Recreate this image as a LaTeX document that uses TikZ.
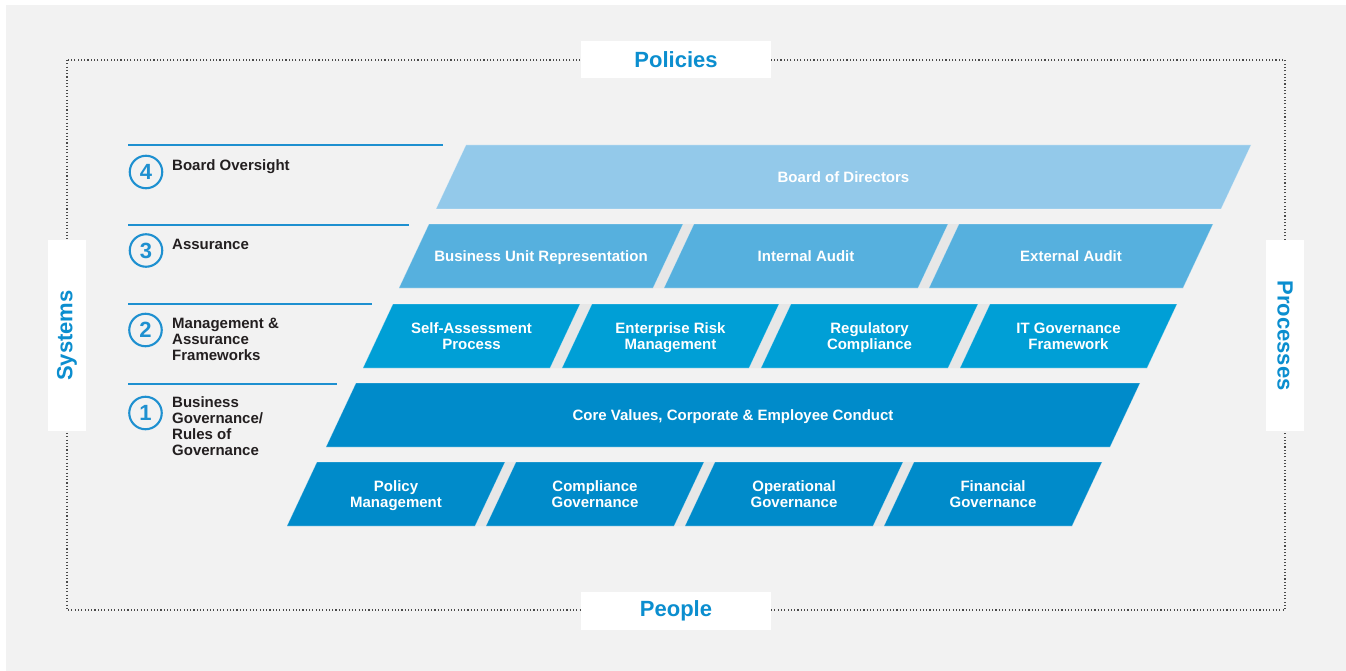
\documentclass[tikz,border=0pt]{standalone}
\usepackage{fontspec}
\setmainfont{Liberation Sans}
\definecolor{bg}{HTML}{F2F2F2}
\definecolor{gapc}{HTML}{E7E7E7}
\definecolor{rfour}{HTML}{93C9EA}
\definecolor{rthree}{HTML}{56B0DE}
\definecolor{rtwo}{HTML}{009FD6}
\definecolor{rone}{HTML}{008BCA}
\definecolor{headblue}{HTML}{0B8ECF}
\definecolor{linec}{HTML}{1E90D0}
\definecolor{labc}{HTML}{231F20}
\definecolor{dotc}{HTML}{4A4A4A}
% \segm{name}{top y}{top-left x}{top-right x}{colour}{text}
\newcommand\segm[6]{%
  \fill[#5, draw=white, draw opacity=0.3, line width=0.6pt] (#3,#2) -- (#4,#2) -- ({#4-30},{#2+64}) -- ({#3-30},{#2+64}) -- cycle;
  \node[segtext] (#1) at ({(#3+#4)/2-15},{#2+34.5}) {\begin{tabular}{@{}c@{}}#6\end{tabular}};
}
% \rowgap{top y}{top-left x}{top-right x}
\newcommand\rowgap[3]{%
  \fill[gapc] (#2,#1) -- (#3,#1) -- ({#3-30},{#1+64}) -- ({#2-30},{#1+64}) -- cycle;
}
\newcommand\labtab[1]{\begin{tabular}[t]{@{}l@{}}#1\end{tabular}}
\begin{document}
\begin{tikzpicture}[x=1pt,y=-1pt,
  segtext/.style={text=white, font=\fontsize{15}{16}\selectfont\bfseries, inner sep=0pt},
  headbox/.style={fill=white, text=headblue, font=\fontsize{22}{24}\selectfont\bfseries, inner sep=0pt},
  numcirc/.style={circle, draw=linec, line width=2.1pt, minimum size=32.5pt, inner sep=0pt, text=linec, font=\fontsize{22}{22}\selectfont\bfseries},
  labtext/.style={text=labc, font=\fontsize{15}{16}\selectfont\bfseries, inner sep=0pt, anchor=base west},
  rule/.style={draw=linec, line width=1.3pt},
  dotframe/.style={draw=dotc, line width=1.2pt, dash pattern=on 1.1pt off 2.2pt}
]
\useasboundingbox (0,0) rectangle (1346,671);
\fill[white] (0,0) rectangle (1346,671);
\fill[bg] (6,5) rectangle (1346,671);

% dotted frame
\draw[dotframe] (67,60) rectangle (1285,610);

% side / top / bottom labels
\node[headbox, minimum width=190pt, minimum height=37pt] (policies) at (676,59.5) {Policies};
\node[headbox, minimum width=190pt, minimum height=38pt] (people) at (676,611) {People};
\node[headbox, rotate=90, minimum width=191pt, minimum height=38pt] (systems) at (67,335.5) {Systems};
\node[headbox, rotate=-90, minimum width=191pt, minimum height=38pt] (processes) at (1285,335.5) {Processes};

% left rules
\coordinate (r4a) at (128,145); \coordinate (r4b) at (443,145);
\coordinate (r3a) at (128,225); \coordinate (r3b) at (409,225);
\coordinate (r2a) at (128,304); \coordinate (r2b) at (372,304);
\coordinate (r1a) at (128,384); \coordinate (r1b) at (337,384);
\draw[rule] (r4a) -- (r4b);
\draw[rule] (r3a) -- (r3b);
\draw[rule] (r2a) -- (r2b);
\draw[rule] (r1a) -- (r1b);

% numbered circles
\node[numcirc] (c4) at (146,172) {4};
\node[numcirc] (c3) at (146,250.5) {3};
\node[numcirc] (c2) at (145.5,330) {2};
\node[numcirc] (c1) at (145.5,413) {1};

% level labels
\node[labtext] (l4) at (172,171) {\labtab{Board Oversight}};
\node[labtext] (l3) at (172,249) {\labtab{Assurance}};
\node[labtext] (l2) at (172,328) {\labtab{Management \&\\Assurance\\Frameworks}};
\node[labtext] (l1) at (172,407) {\labtab{Business\\Governance/\\Rules of\\Governance}};

% row 4
\segm{bod}{145}{466}{1251}{rfour}{Board of Directors}
% row 3
\rowgap{224}{429}{1213}
\segm{bur}{224}{429}{683}{rthree}{Business Unit Representation}
\segm{ia}{224}{694}{948}{rthree}{Internal Audit}
\segm{ea}{224}{959}{1213}{rthree}{External Audit}
% row 2
\rowgap{304}{393}{1177}
\segm{sap}{304}{393}{580}{rtwo}{Self-Assessment\\Process}
\segm{erm}{304}{592}{779}{rtwo}{Enterprise Risk\\Management}
\segm{rc}{304}{791}{978}{rtwo}{Regulatory\\Compliance}
\segm{itg}{304}{990}{1177}{rtwo}{IT Governance\\Framework}
% row 1
\segm{core}{383}{356}{1140}{rone}{Core Values, Corporate \& Employee Conduct}
% row 0
\rowgap{462}{317}{1102}
\segm{pm}{462}{317}{505}{rone}{Policy\\Management}
\segm{cg}{462}{516}{704}{rone}{Compliance\\Governance}
\segm{og}{462}{715}{903}{rone}{Operational\\Governance}
\segm{fg}{462}{914}{1102}{rone}{Financial\\Governance}
\end{tikzpicture}
\end{document}
